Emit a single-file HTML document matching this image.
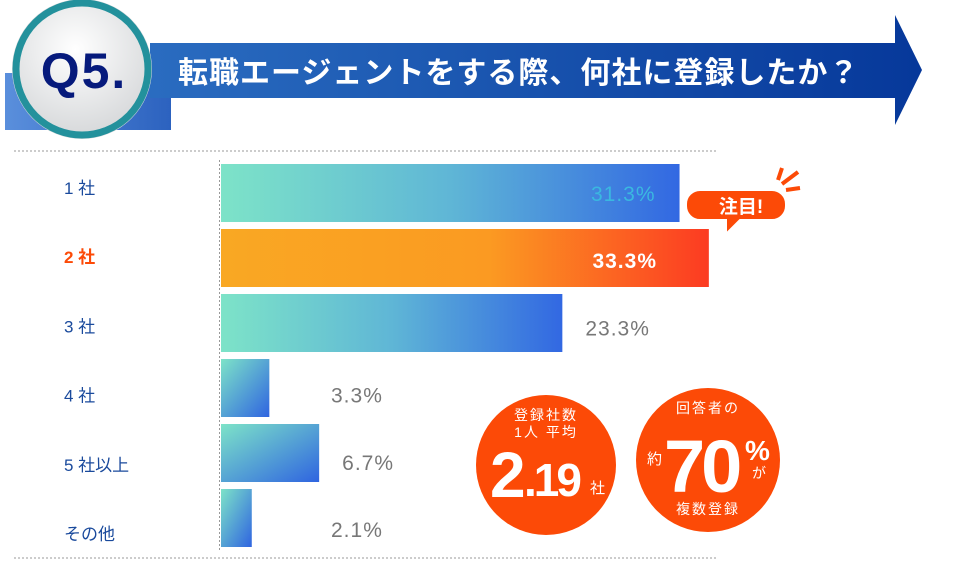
<!DOCTYPE html>
<html><head><meta charset="utf-8">
<style>
body{margin:0;width:960px;height:570px;background:#fff;overflow:hidden;font-family:"Liberation Sans","Noto Sans CJK JP",sans-serif;}
svg{display:block}
</style></head>
<body>
<svg id="chart" width="960" height="570" viewBox="0 0 960 570" xmlns="http://www.w3.org/2000/svg">
<defs>
<linearGradient id="band" x1="0" x2="1"><stop offset="0" stop-color="#2a6cc0"/><stop offset="1" stop-color="#06389a"/></linearGradient>
<linearGradient id="lrect" x1="0" x2="1"><stop offset="0" stop-color="#5a8fdc"/><stop offset="1" stop-color="#2c62bf"/></linearGradient>
<linearGradient id="teal" x1="0" x2="1"><stop offset="0" stop-color="#7de3c8"/><stop offset="0.5" stop-color="#5fb6d6"/><stop offset="1" stop-color="#3268e2"/></linearGradient>
<linearGradient id="tealS" x1="0" y1="0" x2="1" y2="1"><stop offset="0" stop-color="#7de3c8"/><stop offset="1" stop-color="#2f64e0"/></linearGradient>
<linearGradient id="orange" x1="0" x2="1"><stop offset="0" stop-color="#f9a823"/><stop offset="0.55" stop-color="#fb9a22"/><stop offset="1" stop-color="#fc3b22"/></linearGradient>
<radialGradient id="qc" cx="0.45" cy="0.35" r="0.7"><stop offset="0" stop-color="#ffffff"/><stop offset="1" stop-color="#d4d6d8"/></radialGradient>
</defs>
<g>
<rect x="5" y="73" width="166" height="57" fill="url(#lrect)"/>
<polygon points="150,43 895,43 895,15 922,70 895,125 895,98 150,98" fill="url(#band)"/>
<circle cx="82" cy="69" r="70" fill="#d8dadc"/>
<circle cx="82" cy="69" r="66" fill="url(#qc)" stroke="#23919c" stroke-width="7"/>
<text x="84" y="88" text-anchor="middle" font-size="50" font-weight="bold" fill="#061a7c" letter-spacing="2">Q5.</text>
<text x="178" y="83" font-size="30" font-weight="bold" fill="#fff" letter-spacing="1">転職エージェントをする際、何社に登録したか？</text>
</g>
<line x1="14" y1="151" x2="716" y2="151" stroke="#999" stroke-dasharray="2,2"/>
<line x1="14" y1="558" x2="716" y2="558" stroke="#999" stroke-dasharray="2,2"/>
<line x1="219.5" y1="160" x2="219.5" y2="552" stroke="#999" stroke-dasharray="2,2"/>
<g id="bars"></g>
<g>
<path d="M700 190 h72 a14 14 0 0 1 14 14 v2 a14 14 0 0 1 -14 14 h-32 l-14 14 l0 -14 h-26 a14 14 0 0 1 -14 -14 v-2 a14 14 0 0 1 14 -14z" fill="#fc4a07" stroke="#fff" stroke-width="2"/>
<text x="741" y="213" text-anchor="middle" font-size="19" font-weight="bold" fill="#fff">注目!</text>
<path d="M782 184 l16 -12 M786 190 l14 -2 M778 180 l4 -12" stroke="#fc4a07" stroke-width="4"/>
</g>
<g>
<circle cx="546" cy="465" r="70" fill="#fc4a07"/>
<text x="546" y="420" text-anchor="middle" font-size="14" fill="#fff" letter-spacing="2">登録社数</text>
<text x="546" y="437" text-anchor="middle" font-size="14" fill="#fff" letter-spacing="2">1人 平均</text>
<text x="490" y="497" font-size="64" font-weight="bold" fill="#fff" letter-spacing="-3">2</text>
<text x="524" y="496" font-size="46" font-weight="bold" fill="#fff" letter-spacing="-3">.19</text>
<text x="590" y="493" font-size="15" fill="#fff">社</text>
</g>
<g>
<circle cx="708" cy="460" r="72" fill="#fc4a07"/>
<text x="708" y="413" text-anchor="middle" font-size="14" fill="#fff" letter-spacing="2">回答者の</text>
<text x="647" y="464" font-size="15" fill="#fff">約</text>
<text x="664" y="492" font-size="74" font-weight="bold" fill="#fff" letter-spacing="-4">70</text>
<text x="745" y="460" font-size="28" font-weight="bold" fill="#fff">%</text>
<text x="752" y="478" font-size="14" fill="#fff">が</text>
<text x="708" y="514" text-anchor="middle" font-size="14" fill="#fff" letter-spacing="2">複数登録</text>
</g>
</svg>
<script>
const categories=["1社","2社","3社","4社","5社以上","その他"];
const values=[31.3,33.3,23.3,3.3,6.7,2.1];
const valueLabels=["31.3%","33.3%","23.3%","3.3%","6.7%","2.1%"];
const highlight=[false,true,false,false,false,false];
const NS="http://www.w3.org/2000/svg";
const x0=221,pxPer=14.65,y0=164,pitch=65,bh=58;
const xs=v=>x0+v*pxPer;
const ys=i=>y0+i*pitch;
const g=document.getElementById('bars');
function mk(t,a){const e=document.createElementNS(NS,t);for(const k in a)e.setAttribute(k,a[k]);return e;}
categories.forEach((c,i)=>{
 const y=ys(i),w=xs(values[i])-x0;
 const lab=mk('text',{x:64,y:194+i*69.2,'font-size':17,fill:highlight[i]?'#fc4a07':'#1a4a9c','font-weight':highlight[i]?'bold':'normal'});
 lab.textContent=c.replace(/^(\d)/,'$1 ');
 
 
 g.appendChild(lab);
 const r=mk('rect',{x:x0,y:y,width:w,height:bh,fill:highlight[i]?'url(#orange)':(w<150?'url(#tealS)':'url(#teal)')});
 
 
 g.appendChild(r);
 const inside=values[i]>28;
 const t=mk('text',{'font-size':21,y:201+i*67.2,'letter-spacing':1});
 if(inside){t.setAttribute('x',Math.min(xs(values[i])-24,657));t.setAttribute('text-anchor','end');t.setAttribute('fill',highlight[i]?'#fff':'#3ab8e0');if(highlight[i])t.setAttribute('font-weight','bold');}
 else{t.setAttribute('x',Math.max(xs(values[i])+23,331));t.setAttribute('fill','#777');}
 t.textContent=valueLabels[i];
 
 
 g.appendChild(t);
});
</script>
</body></html>
